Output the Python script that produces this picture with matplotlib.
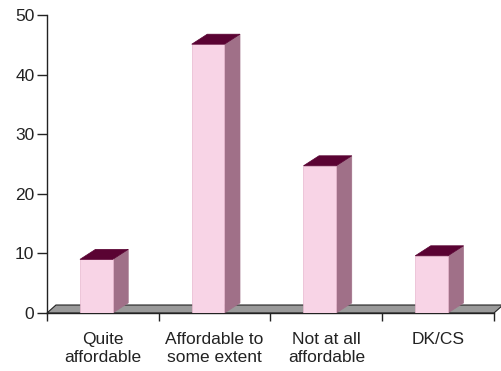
import matplotlib
matplotlib.use('Agg')
import matplotlib.pyplot as plt
from matplotlib.patches import Polygon

plt.rcParams['font.family'] = ['Liberation Sans', 'DejaVu Sans']

categories = ['Quite\naffordable', 'Affordable to\nsome extent', 'Not at all\naffordable', 'DK/CS']
values = [9.0, 45.1, 24.7, 9.6]
yticks = [0, 10, 20, 30, 40, 50]

front_col = '#f8d4e6'
side_col = '#a07088'
top_col = '#5a0333'
floor_col = '#9a9a9a'
text_col = '#222222'

fig = plt.figure(figsize=(5.02, 3.71), dpi=100)
ax = fig.add_axes([47 / 502, 58 / 371, 447 / 502, 298 / 371])

# bar geometry (data units)
w = 0.293
off = -0.205
ddx, ddy = 0.139, 1.68

# floor slab
fdx, fdy = 0.08, 1.34
ax.add_patch(Polygon([(-0.5, 0), (3.5, 0), (3.5 + fdx, fdy), (-0.5 + fdx, fdy)],
                     closed=True, facecolor=floor_col, edgecolor='#222222',
                     lw=0.8, clip_on=False, zorder=1))

xs = list(range(len(categories)))
ax.bar([x + off for x in xs], values, width=w, align='edge', color=front_col,
       edgecolor='#e8b8cf', lw=0.5, zorder=3)
for x, v in zip(xs, values):
    x0 = x + off
    x1 = x0 + w
    ax.add_patch(Polygon([(x1, 0), (x1 + ddx, ddy), (x1 + ddx, v + ddy), (x1, v)],
                         closed=True, facecolor=side_col, edgecolor=side_col,
                         lw=0.5, clip_on=False, zorder=2))
    ax.add_patch(Polygon([(x0, v), (x1, v), (x1 + ddx, v + ddy), (x0 + ddx, v + ddy)],
                         closed=True, facecolor=top_col, edgecolor=top_col,
                         lw=0.5, clip_on=False, zorder=4))

ax.set_xlim(-0.5, 3.5)
ax.set_ylim(0, 50)
ax.set_yticks(yticks)
ax.set_xticks([-0.5, 0.5, 1.5, 2.5, 3.5])
ax.set_xticklabels([])
ax.set_xticks(xs, minor=True)
ax.set_xticklabels(categories, minor=True, fontsize=12.5, color=text_col)
ax.tick_params(axis='x', which='minor', length=0, pad=14)
ax.tick_params(axis='x', which='major', length=6, width=1, color='#222222')
ax.tick_params(axis='y', length=7, width=1, color='#222222', labelsize=12.5,
               labelcolor=text_col, pad=2)

for s in ['top', 'right']:
    ax.spines[s].set_visible(False)
ax.spines['left'].set_color('#222222')
ax.spines['bottom'].set_color('#222222')
ax.spines['left'].set_linewidth(1)
ax.spines['bottom'].set_linewidth(1)

fig.savefig('out.png', dpi=100)
